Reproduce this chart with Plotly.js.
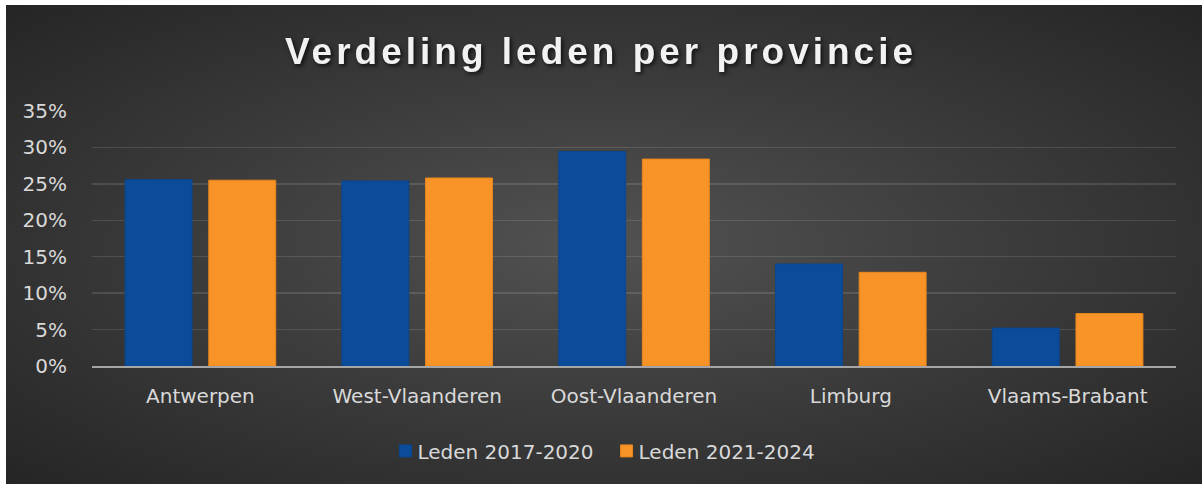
<!DOCTYPE html>
<html>
<head>
<meta charset="utf-8">
<script src="https://cdn.plot.ly/plotly-3.0.1.min.js"></script>
<style>
  html, body { margin: 0; padding: 0; background: #ffffff; }
  #bg {
    position: absolute; left: 6px; top: 5px; width: 1196px; height: 479px;
    background: radial-gradient(ellipse farthest-corner at 50% 50%, #525252 0%, #3d3d3d 45%, #252525 100%);
  }
  #chart { position: absolute; left: 0; top: 0; width: 1202px; height: 484px; }
  .gtitle { letter-spacing: 4px; filter: drop-shadow(2px 2px 2px rgba(0,0,0,0.7)); }
</style>
</head>
<body>
<div id="bg"></div>
<div id="chart"></div>
<script>
const categories = ["Antwerpen", "West-Vlaanderen", "Oost-Vlaanderen", "Limburg", "Vlaams-Brabant"];
const seriesNames = ["Leden 2017-2020", "Leden 2021-2024"];
const leden2017_2020 = [0.2557, 0.2540, 0.2945, 0.1400, 0.0520];
const leden2021_2024 = [0.2550, 0.2580, 0.2840, 0.1286, 0.0720];
const yTickVals = [0, 0.05, 0.10, 0.15, 0.20, 0.25, 0.30, 0.35];
const yTickText = ["0%", "5%", "10%", "15%", "20%", "25%", "30%", "35%"];

const font = "DejaVu Sans, sans-serif";
const data = [
  { type: "bar", name: seriesNames[0], x: categories, y: leden2017_2020,
    marker: { color: "#0b4c9a", line: { color: "#0a4690", width: 1 } }, hoverinfo: "none" },
  { type: "bar", name: seriesNames[1], x: categories, y: leden2021_2024,
    marker: { color: "#f89427", line: { color: "#e8861c", width: 1 } }, hoverinfo: "none" }
];
const layout = {
  width: 1202, height: 484,
  paper_bgcolor: "rgba(0,0,0,0)", plot_bgcolor: "rgba(0,0,0,0)",
  margin: { l: 92, r: 26, t: 111, b: 118 },
  barmode: "group", bargap: 0.228, bargroupgap: 0.2,
  showlegend: true,
  title: { text: "Verdeling leden per provincie", x: 0.5, xanchor: "center", xref: "container",
           y: 1 - 51 / 484, yanchor: "middle", yref: "container",
           font: { family: "Liberation Sans, Arial, sans-serif", size: 37, color: "#f2f2f2", weight: "bold" } },
  xaxis: { type: "category", showgrid: false, zeroline: false,
           showline: true, linecolor: "#a6a6a6", linewidth: 2,
           ticks: "outside", ticklen: 11, tickcolor: "rgba(0,0,0,0)",
           tickfont: { family: font, size: 20, color: "#d9d9d9" }, fixedrange: true },
  yaxis: { range: [0, 0.35], tickvals: yTickVals, ticktext: yTickText,
           showgrid: true, gridcolor: "rgba(255,255,255,0.12)", gridwidth: 1.5,
           zeroline: false, showline: false,
           ticks: "outside", ticklen: 20, tickcolor: "rgba(0,0,0,0)",
           tickfont: { family: font, size: 20, color: "#d9d9d9" }, fixedrange: true },
  legend: { orientation: "h", x: 0.475, xanchor: "center", y: -0.333, yanchor: "middle",
            font: { family: font, size: 20, color: "#d9d9d9" }, bgcolor: "rgba(0,0,0,0)" }
};
Plotly.newPlot("chart", data, layout, { displayModeBar: false, staticPlot: true }).then(function () {
  document.querySelectorAll(".legendtext").forEach(function (t) { t.setAttribute("x", "32"); });
});
</script>
</body>
</html>
